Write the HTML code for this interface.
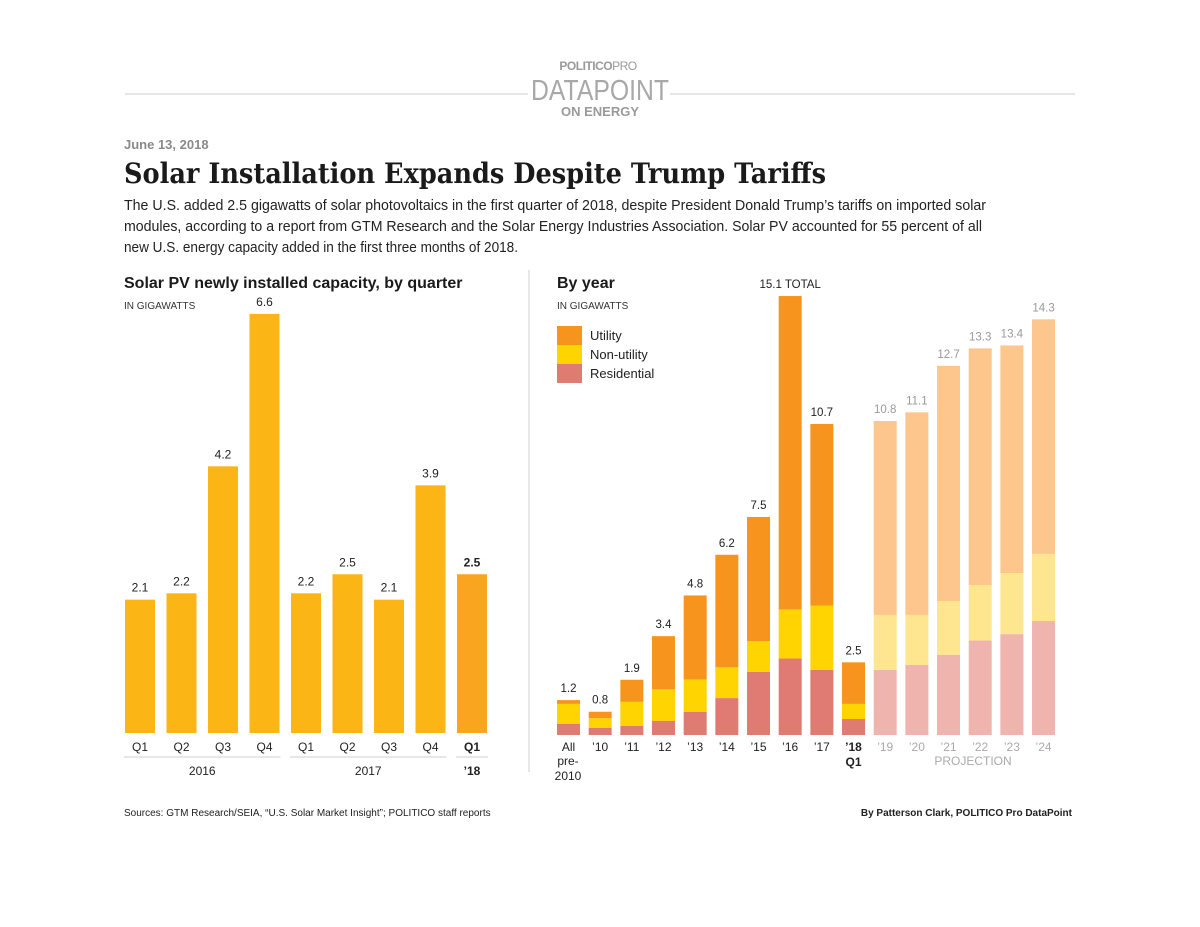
<!DOCTYPE html>
<html><head><meta charset="utf-8"><style>
html,body{margin:0;padding:0;background:#fff;}
svg{display:block;font-family:"Liberation Sans",sans-serif;}
</style></head><body>
<svg id="root" width="1200" height="927" viewBox="0 0 1200 927" xmlns="http://www.w3.org/2000/svg">
<g>
<line x1="125" y1="94" x2="528" y2="94" stroke="#d6d6d6" stroke-width="1.2"/>
<line x1="670" y1="94" x2="1075" y2="94" stroke="#d6d6d6" stroke-width="1.2"/>
<text x="598" y="70" text-anchor="middle" font-size="12" font-weight="bold" fill="#9a9a9a" letter-spacing="-0.5">POLITICO<tspan font-weight="normal">PRO</tspan></text>
<text x="600" y="100" text-anchor="middle" font-size="29" fill="#a8a8a8" textLength="138" lengthAdjust="spacingAndGlyphs">DATAPOINT</text>
<text x="600" y="116" text-anchor="middle" font-size="13" font-weight="bold" fill="#9a9a9a">ON ENERGY</text>
</g>
<text x="124" y="149" font-size="13" font-weight="bold" fill="#8a8a8a">June 13, 2018</text>
<text x="124" y="183" font-size="28" font-weight="bold" fill="#1a1a1a" font-family="'DejaVu Serif','Liberation Serif',serif" textLength="702" lengthAdjust="spacingAndGlyphs">Solar Installation Expands Despite Trump Tariffs</text>
<g font-size="14.5" fill="#222">
<text x="124" y="210" textLength="862" lengthAdjust="spacingAndGlyphs">The U.S. added 2.5 gigawatts of solar photovoltaics in the first quarter of 2018, despite President Donald Trump’s tariffs on imported solar</text>
<text x="124" y="231" textLength="858" lengthAdjust="spacingAndGlyphs">modules, according to a report from GTM Research and the Solar Energy Industries Association. Solar PV accounted for 55 percent of all</text>
<text x="124" y="252" textLength="394" lengthAdjust="spacingAndGlyphs">new U.S. energy capacity added in the first three months of 2018.</text>
</g>
<line x1="529" y1="270" x2="529" y2="772" stroke="#cfcfcf" stroke-width="1"/>
<text x="124" y="288" font-size="16" font-weight="bold" fill="#1a1a1a">Solar PV newly installed capacity, by quarter</text>
<text x="124" y="309" font-size="10" fill="#333">IN GIGAWATTS</text>
<g id="left"></g>
<text x="557" y="288" font-size="16" font-weight="bold" fill="#1a1a1a">By year</text>
<text x="557" y="309" font-size="10" fill="#333">IN GIGAWATTS</text>
<g>
<rect x="557" y="326" width="25" height="19" fill="#f7941d"/>
<rect x="557" y="345" width="25" height="19" fill="#ffd400"/>
<rect x="557" y="364" width="25" height="19" fill="#e07b73"/>
<text x="590" y="340" font-size="13" fill="#222">Utility</text>
<text x="590" y="359" font-size="13" fill="#222">Non-utility</text>
<text x="590" y="378" font-size="13" fill="#222">Residential</text>
</g>
<g id="right"></g>
<text x="568" y="765" text-anchor="middle" font-size="12" fill="#222"><tspan x="568" dy="0">pre-</tspan><tspan x="568" dy="15">2010</tspan></text>
<text x="973" y="765" text-anchor="middle" font-size="12" fill="#aaa">PROJECTION</text>
<text x="124" y="816" font-size="10" fill="#222">Sources: GTM Research/SEIA, “U.S. Solar Market Insight”; POLITICO staff reports</text>
<text x="1072" y="816" text-anchor="end" font-size="10" font-weight="bold" fill="#222">By Patterson Clark, POLITICO Pro DataPoint</text>
</svg>
<script>
const qLabels = ['Q1','Q2','Q3','Q4','Q1','Q2','Q3','Q4','Q1'];
const qValues = [2.1,2.2,4.2,6.6,2.2,2.5,2.1,3.9,2.5];
const qValueLabels = ['2.1','2.2','4.2','6.6','2.2','2.5','2.1','3.9','2.5'];
const qGroups = ['2016','2017','’18'];

const yLabels = ['All','’10','’11','’12','’13','’14','’15','’16','’17','’18','’19','’20','’21','’22','’23','’24'];
const residential = [0.38,0.25,0.31,0.49,0.80,1.27,2.17,2.63,2.24,0.55,2.24,2.41,2.76,3.25,3.47,3.92];
const nonUtility = [0.69,0.33,0.83,1.08,1.11,1.06,1.06,1.69,2.21,0.52,1.89,1.72,1.85,1.91,2.10,2.31];
const utility = [0.13,0.22,0.76,1.83,2.89,3.87,4.27,10.78,6.25,1.43,6.67,6.97,8.09,8.14,7.83,8.07];
const totalLabels = ['1.2','0.8','1.9','3.4','4.8','6.2','7.5','15.1 TOTAL','10.7','2.5','10.8','11.1','12.7','13.3','13.4','14.3'];

const NS = 'http://www.w3.org/2000/svg';
function mk(tag, attrs, parent, text){
  const e = document.createElementNS(NS, tag);
  for (const k in attrs) e.setAttribute(k, attrs[k]);
  if (text !== undefined) e.textContent = text;
  parent.appendChild(e);
  return e;
}
const L = document.getElementById('left');
const lBase = 733, lScale = 63.5;
const lx = i => 125 + i * 41.5;
const ly = v => lBase - v * lScale;
qValues.forEach((v, i) => {
  const last = i === qValues.length - 1;
  const r = mk('rect', {x: lx(i), y: ly(v), width: 30, height: lBase - ly(v), fill: last ? '#f9a51f' : '#fbb616'}, L);
  
  
  const t = mk('text', {x: lx(i) + 15, y: ly(v) - 8, 'text-anchor': 'middle', 'font-size': 12, fill: '#222', 'font-weight': last ? 'bold' : 'normal'}, L, qValueLabels[i]);
  
  
  const a = mk('text', {x: lx(i) + 15, y: 751, 'text-anchor': 'middle', 'font-size': 12, fill: '#222', 'font-weight': last ? 'bold' : 'normal'}, L, qLabels[i]);
  
  
});
const groups = [[0,3],[4,7],[8,8]];
groups.forEach((g, j) => {
  const x1 = lx(g[0]) - 1, x2 = lx(g[1]) + 31;
  const ln = mk('line', {x1: x1, x2: x2, y1: 757, y2: 757, stroke: '#cfcfcf', 'stroke-width': 1}, L);
  
  
  const t = mk('text', {x: (x1 + x2) / 2, y: 775, 'text-anchor': 'middle', 'font-size': 12, fill: '#222', 'font-weight': j === 2 ? 'bold' : 'normal'}, L, qGroups[j]);
  
  
});
const R = document.getElementById('right');
const rBase = 735, rScale = 29.07;
const rx = i => 557 + i * 31.67;
const rh = v => v * rScale;
const cols = {res: ['#e07b73','#eeb4ad'], nu: ['#ffd400','#fde68f'], ut: ['#f7941d','#fcc68c']};
yLabels.forEach((lab, i) => {
  const proj = i >= 10 ? 1 : 0;
  let y = rBase;
  [['res', residential], ['nu', nonUtility], ['ut', utility]].forEach(([k, arr]) => {
    const h = rh(arr[i]);
    y -= h;
    const r = mk('rect', {x: rx(i), y: y, width: 23, height: h, fill: cols[k][proj]}, R);
    
    
  });
  const total = residential[i] + nonUtility[i] + utility[i];
  const tx = mk('text', {x: rx(i) + 11.5, y: rBase - rh(total) - 8, 'text-anchor': 'middle', 'font-size': 11.5, fill: proj ? '#999' : '#222'}, R, totalLabels[i]);
  
  
  const ax = mk('text', {x: rx(i) + 11.5, y: 751, 'text-anchor': 'middle', 'font-size': 12, fill: proj ? '#aaa' : '#222', 'font-weight': i === 9 ? 'bold' : 'normal'}, R, lab);
  
  
  if (i === 9) {
    const q = mk('text', {x: rx(i) + 11.5, y: 766, 'text-anchor': 'middle', 'font-size': 12, fill: '#222', 'font-weight': 'bold'}, R, 'Q1');
    
    
  }
});
</script>
</body></html>
